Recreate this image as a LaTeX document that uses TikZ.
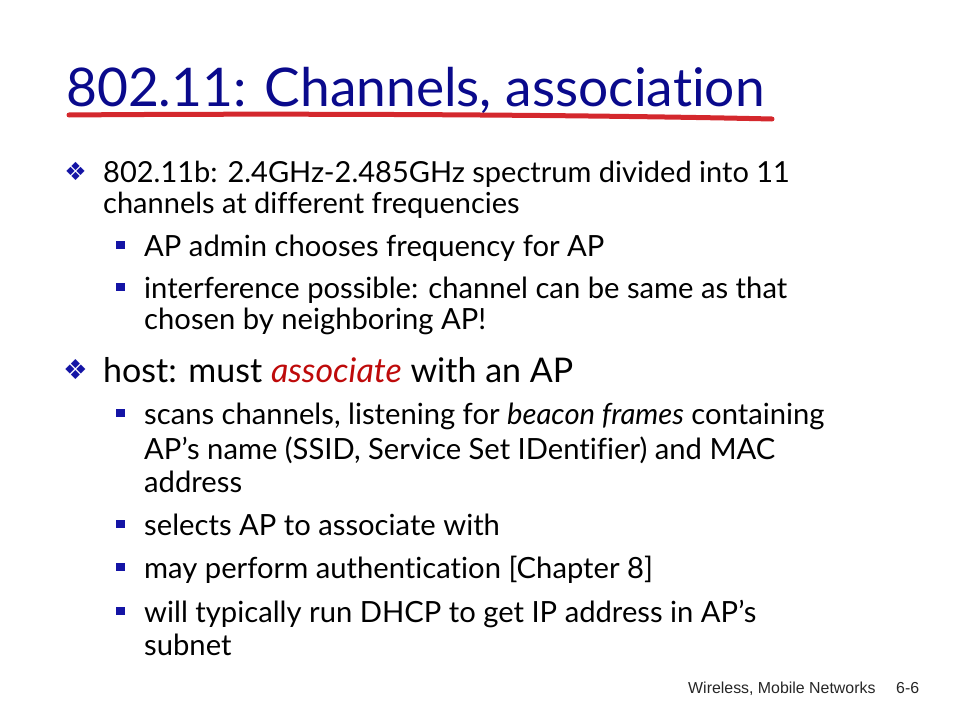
\documentclass[tikz,border=0pt]{standalone}
\usepackage{fontspec}
\setmainfont{Lato}[Ligatures=NoCommon]
\newfontfamily\symfont{DejaVu Sans}
\newfontfamily\footfont{Liberation Sans}
\usetikzlibrary{positioning}
\definecolor{titleblue}{RGB}{10,10,140}
\definecolor{bulletblue}{RGB}{20,20,165}
\definecolor{assocred}{RGB}{190,10,10}
\definecolor{brushred}{RGB}{212,40,45}

\begin{document}
\begin{tikzpicture}[x=1pt,y=-1pt,
    mainline/.style={anchor=base west,inner sep=0pt,font=\fontsize{29}{32}\selectfont},
    hostline/.style={anchor=base west,inner sep=0pt,font=\fontsize{34}{36}\selectfont},
    subline/.style={anchor=base west,inner sep=0pt,font=\fontsize{29.2}{32}\selectfont},
    diabullet/.style={inner sep=0pt,text=bulletblue,font=\symfont\fontsize{25}{25}\selectfont},
    sqbullet/.style={rectangle,fill=bulletblue,inner sep=0pt,minimum size=8.5pt}]
    \useasboundingbox (0,0) rectangle (960,720);

    \node[anchor=base west,inner sep=0pt,text=titleblue,font=\fontsize{53.3}{56}\selectfont](title) at (66,106){802.11: Channels, association};
    \draw[brushred,line width=5pt,line cap=round] (69,115) .. controls (300,113) and (600,115) .. (772,119);

    \node[mainline](b1a) at (103,182){802.11b: 2.4GHz-2.485GHz spectrum divided into 11};
    \node[mainline](b1b) at (103,213){channels at different frequencies};
    \node[subline](s1) at (144,256){AP admin chooses frequency for AP};
    \node[subline](s2a) at (144,298){interference possible: channel can be same as that};
    \node[subline](s2b) at (144,329){chosen by neighboring AP!};
    \node[hostline](b2) at (103,382){host: must \textcolor{assocred}{\itshape associate} with an AP};
    \node[subline](s3a) at (144,424){scans channels, listening for \textit{beacon frames} containing};
    \node[subline](s3b) at (144,459){AP’s name (SSID, Service Set IDentifier) and MAC};
    \node[subline](s3c) at (144,492){address};
    \node[subline](s4) at (144,535){selects AP to associate with};
    \node[subline](s5) at (144,578){may perform authentication [Chapter 8]};
    \node[subline](s6a) at (144,622){will typically run DHCP to get IP address in AP’s};
    \node[subline](s6b) at (144,655){subnet};

    \node[diabullet](d1)[left=16pt of b1a.base west,yshift=10.5pt]{❖};
    \node[diabullet,font=\symfont\fontsize{27.5}{28}\selectfont](d2)[left=15pt of b2.base west,yshift=12pt]{❖};
    \node[sqbullet](q1)[left=19pt of s1.base west,yshift=11pt]{};
    \node[sqbullet](q2)[left=19pt of s2a.base west,yshift=11pt]{};
    \node[sqbullet](q3)[left=19pt of s3a.base west,yshift=11pt]{};
    \node[sqbullet](q4)[left=19pt of s4.base west,yshift=11pt]{};
    \node[sqbullet](q5)[left=19pt of s5.base west,yshift=11pt]{};
    \node[sqbullet](q6)[left=19pt of s6a.base west,yshift=11pt]{};

    \node[anchor=base west,inner sep=0pt,text=black!85,font=\footfont\fontsize{15.9}{18}\selectfont](foot) at (688,693){Wireless, Mobile Networks};
    \node[anchor=base west,inner sep=0pt,text=black!85,font=\footfont\fontsize{15.9}{18}\selectfont](page) at (896,693){6-6};
\end{tikzpicture}
\end{document}
